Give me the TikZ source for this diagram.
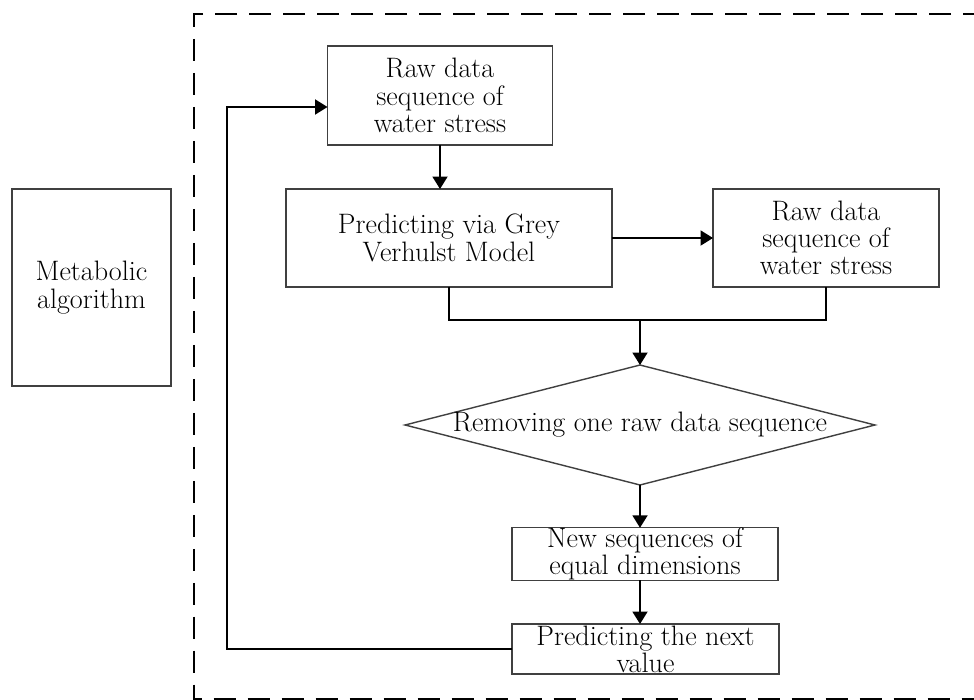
\documentclass[tikz,border=0pt]{standalone}
\usepackage{tikz}
\usetikzlibrary{arrows.meta,shapes.geometric}

\begin{document}
\begin{tikzpicture}[x=0.02cm, y=-0.02cm,
  every node/.style={font=\fontsize{16}{15.5}\selectfont, align=center, inner sep=0pt, outer sep=0pt},
  box/.style={draw=black!75, line width=0.8pt, rectangle},
  arr/.style={line width=1.1pt, -{Triangle[length=0.25cm,width=0.3cm]}},
  ln/.style={line width=1.1pt}]
\useasboundingbox (0,0) rectangle (974,700);

\node[box, minimum width=3.18cm, minimum height=3.94cm] (metab) at (91.5,287.5) {Metabolic\\algorithm};

\node[box, minimum width=4.5cm, minimum height=1.98cm] (rawseq) at (440,95.5) {Raw data\\sequence of\\water stress};
\node[box, minimum width=6.52cm, minimum height=1.96cm] (predict) at (449,238) {Predicting via Grey\\Verhulst Model};
\node[box, minimum width=4.52cm, minimum height=1.96cm] (rawseqb) at (826,238) {Raw data\\sequence of\\water stress};
\node[draw=black!75, line width=0.8pt, diamond, minimum width=9.4cm, minimum height=2.4cm] (remove) at (640,425) {};
\node (removetxt) at (remove) {Removing one raw data sequence};
\node[box, minimum width=5.32cm, minimum height=1cm] (newseq) at (645,554) {New sequences of\\equal dimensions};
\node[box, minimum width=5.34cm, minimum height=1cm] (nextval) at (645.5,649) {Predicting the next\\value};

\coordinate (merge) at (640,320);
\coordinate (loop) at (227,0);

\draw[arr] (rawseq.south) -- (rawseq.south |- predict.north);
\draw[arr] (predict.east) -- (rawseqb.west);
\draw[ln] (predict.south) |- (merge) -| (rawseqb.south);
\draw[arr] (merge) -- (remove.north);
\draw[arr] (remove.south) -- (newseq.north -| remove.south);
\draw[arr] (newseq.south -| remove.south) -- (nextval.north -| remove.south);
\draw[arr] (nextval.west) -- (nextval.west -| loop) |- ([yshift=-0.23cm]rawseq.west);

\draw[line width=1.7pt, dash pattern=on 0.44cm off 0.24cm] (985,14) -- (194,14) -- (194,699) -- (985,699);
\end{tikzpicture}
\end{document}
